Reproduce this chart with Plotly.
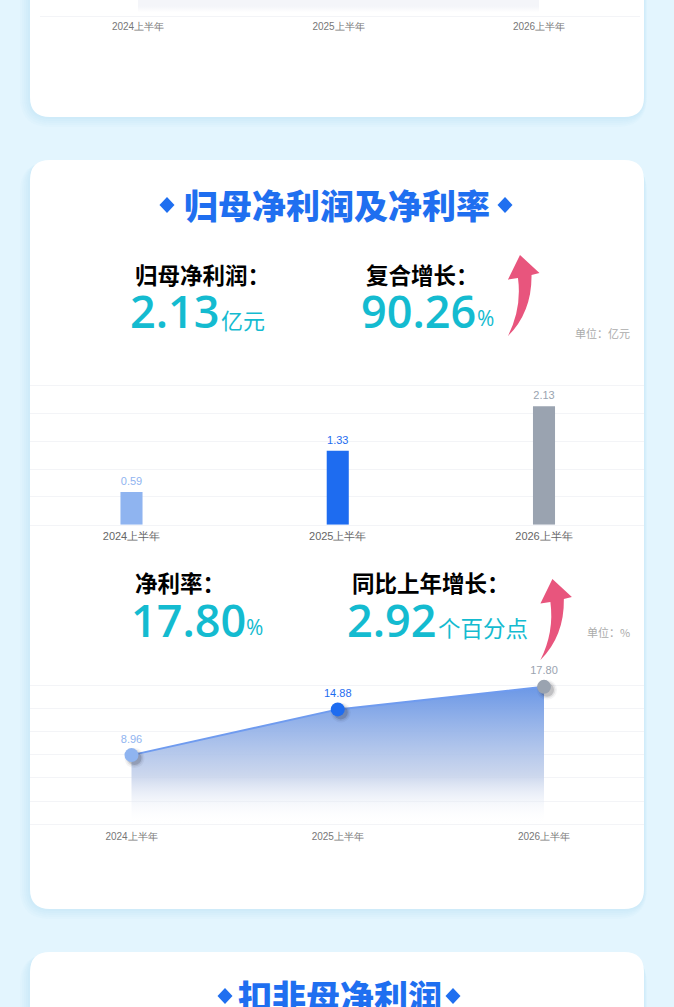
import plotly.graph_objects as go

W = 674
H = 1007

periods = ['2024上半年', '2025上半年', '2026上半年']
profit = [0.59, 1.33, 2.13]
margin = [8.96, 14.88, 17.80]
profit_labels = ['0.59', '1.33', '2.13']
margin_labels = ['8.96', '14.88', '17.80']
point_colors = ['#8FB4F0', '#1E6CF0', '#9AA3B0']
# only the faded foot of the chart above is in the picture
prev_tail = [1, 1, 1]

BLUE = '#1F6FF0'
TEAL = '#14BBD0'
PINK = '#E8557D'
GRID = '#F3F4F7'
SANS = 'Noto Sans CJK SC'
NUM = 'Open Sans'


def fx(x):
    return x / W


def fy(y):
    return 1 - y / H


def path(points):
    return 'M' + ' L'.join('%.4f,%.4f' % (fx(x), fy(y)) for x, y in points) + ' Z'


def card_path(x0, y0, x1, y1, r):
    return ('M%.4f,%.4f L%.4f,%.4f Q%.4f,%.4f %.4f,%.4f L%.4f,%.4f Q%.4f,%.4f %.4f,%.4f '
            'L%.4f,%.4f Q%.4f,%.4f %.4f,%.4f L%.4f,%.4f Q%.4f,%.4f %.4f,%.4f Z') % (
        fx(x0 + r), fy(y0), fx(x1 - r), fy(y0), fx(x1), fy(y0), fx(x1), fy(y0 + r),
        fx(x1), fy(y1 - r), fx(x1), fy(y1), fx(x1 - r), fy(y1),
        fx(x0 + r), fy(y1), fx(x0), fy(y1), fx(x0), fy(y1 - r),
        fx(x0), fy(y0 + r), fx(x0), fy(y0), fx(x0 + r), fy(y0))


shapes = []


def add_card(y0, y1):
    for grow in [10, 8, 6, 4, 2]:
        shapes.append(dict(type='path', xref='paper', yref='paper', layer='below',
                           path=card_path(30 - grow, y0 + 2, 644 + grow * 0.3, y1 + grow, 20 + grow),
                           fillcolor='rgba(150,205,240,0.045)', line_width=0))
    shapes.append(dict(type='path', xref='paper', yref='paper', layer='below',
                       path=card_path(30, y0, 644, y1, 20), fillcolor='white', line_width=0))


def add_diamond(cx, cy):
    shapes.append(dict(type='path', xref='paper', yref='paper', layer='below',
                       path=path([(cx, cy - 8), (cx + 7.5, cy), (cx, cy + 8), (cx - 7.5, cy)]),
                       fillcolor=BLUE, line_width=0))


def add_arrow(dx, dy):
    p = lambda x, y: '%.4f,%.4f' % (fx(x + dx), fy(y + dy))
    d = ('M' + p(520, 255) + ' L' + p(539.5, 273) + ' L' + p(531.5, 275)
         + ' Q' + p(532, 312) + ' ' + p(508, 336)
         + ' Q' + p(522, 308) + ' ' + p(518, 278)
         + ' L' + p(508, 279.5) + ' Z')
    shapes.append(dict(type='path', xref='paper', yref='paper', layer='above',
                       path=d, fillcolor=PINK, line_width=0))


add_card(-60, 117)
add_card(160, 909)
add_card(952, 1080)
add_diamond(167, 205)
add_diamond(505, 205)
add_diamond(225, 996)
add_diamond(453, 996)
add_arrow(0, 0)
add_arrow(32.4, 324)

annotations = []


def label(x, y, text, size, color, anchor='left', family=SANS, weight=None):
    font = dict(size=size, color=color, family=family)
    if weight:
        font['weight'] = weight
    annotations.append(dict(x=fx(x), y=fy(y), xref='paper', yref='paper', text=text, font=font,
                            xanchor=anchor, yanchor='middle', showarrow=False, borderpad=0, borderwidth=0))


label(337, 204, '归母净利润及净利率', 34, BLUE, 'center', weight=900)
label(339.5, 995, '扣非母净利润', 34, BLUE, 'center', weight=900)

label(135, 274, '归母净利润：', 22.5, 'black', weight=700)
label(366, 274, '复合增长：', 22.5, 'black', weight=700)
label(130, 310, '2.13', 45, TEAL, family=NUM, weight=600)
label(221, 319, '亿元', 22, TEAL)
label(361, 310, '90.26', 45, TEAL, family=NUM, weight=600)
label(477, 318, '%', 21, TEAL, family=NUM)
label(630, 333, '单位：亿元', 11, '#ABABAB', 'right')

label(135, 582, '净利率：', 22.5, 'black', weight=700)
label(352, 582, '同比上年增长：', 22.5, 'black', weight=700)
label(131, 619, '17.80', 45, TEAL, family=NUM, weight=600)
label(246, 627, '%', 21, TEAL, family=NUM)
label(347, 619, '2.92', 45, TEAL, family=NUM, weight=600)
label(438, 627, '个百分点', 22.5, TEAL)
label(630, 632, '单位：%', 11, '#ABABAB', 'right')

fig = go.Figure()

# chart left over from the card above
fig.add_trace(go.Scatter(x=periods, y=prev_tail, mode='none', fill='tozeroy', xaxis='x', yaxis='y',
                         fillgradient=dict(type='vertical', start=0, stop=1,
                                           colorscale=[[0, 'rgba(243,244,248,0)'], [0.5, 'rgba(244,245,249,1)'],
                                                       [1, 'rgba(244,245,249,1)']]),
                         hoverinfo='skip', showlegend=False))

fig.add_trace(go.Bar(x=periods, y=profit, width=0.107, marker=dict(color=point_colors, line_width=0),
                     xaxis='x2', yaxis='y2', showlegend=False))

# area and line first, then the marker shadows, then the markers on top
fig.add_trace(go.Scatter(x=periods, y=margin, mode='lines', fill='tozeroy',
                         fillgradient=dict(type='vertical', start=0, stop=18,
                                           colorscale=[[0, 'rgba(255,255,255,0)'], [0.35, 'rgba(195,208,234,0.85)'],
                                                       [1, 'rgba(105,150,230,1)']]),
                         line=dict(color='#6F9BEF', width=2),
                         xaxis='x3', yaxis='y3', showlegend=False))

# shadow axes are the same axes moved a few pixels right and down
for size, alpha in [(20, 0.05), (17, 0.09), (14, 0.18)]:
    fig.add_trace(go.Scatter(x=periods, y=margin, mode='markers', xaxis='x4', yaxis='y4',
                             marker=dict(size=size, color='rgba(40,40,50,%.2f)' % alpha, line_width=0),
                             cliponaxis=False, hoverinfo='skip', showlegend=False))

fig.add_trace(go.Scatter(x=periods, y=margin, mode='markers+text',
                         marker=dict(size=14, color=point_colors, line_width=0),
                         text=margin_labels, textposition='top center', cliponaxis=False,
                         textfont=dict(size=11, color=point_colors, family='Liberation Sans'),
                         xaxis='x5', yaxis='y5', showlegend=False))

# bar labels sit a little higher than plotly puts them, so they hang off an empty bar on raised axes
fig.add_trace(go.Bar(x=periods, y=profit, width=0.107, marker=dict(color='rgba(0,0,0,0)', line_width=0),
                     text=profit_labels, textposition='outside', cliponaxis=False,
                     textfont=dict(size=11, color=point_colors, family='Liberation Sans'),
                     xaxis='x6', yaxis='y6', showlegend=False))


def cat_axis(px0, px1, first, step, anchor, tick_size, tick_color, standoff):
    return dict(domain=[fx(px0), fx(px1)], range=[(px0 - first) / step, (px1 - first) / step],
                type='category', categoryorder='array', categoryarray=periods,
                anchor=anchor, showgrid=False, zeroline=False, showline=True, linecolor=GRID, linewidth=1,
                ticks='outside', ticklen=standoff, tickcolor='rgba(0,0,0,0)',
                tickfont=dict(size=tick_size, color=tick_color, family='Liberation Sans'))


def val_axis(px_top, px_bottom, top, dtick, anchor):
    # spare pixels above the top gridline, plotly drops a gridline on the very edge
    px_per_unit = (px_bottom - px_top) / top
    return dict(domain=[fy(px_bottom), fy(px_top - 4)], range=[0, top + 4 / px_per_unit], dtick=dtick, anchor=anchor,
                showticklabels=False, ticks='', showgrid=True, gridcolor=GRID, gridwidth=1, zeroline=False)


def copy_axis(px0, px1):
    return dict(domain=[fx(px0), fx(px1)], range=[(30 - 131.5) / 206.25, (644 - 131.5) / 206.25],
                type='category', categoryorder='array', categoryarray=periods, visible=False)


def copy_val(px_top, px_bottom, top):
    return dict(domain=[fy(px_bottom), fy(px_top)], range=[0, top], visible=False)


fig.update_layout(
    width=W, height=H, margin=dict(l=0, r=0, t=0, b=0), autosize=False,
    paper_bgcolor='#E3F5FE', plot_bgcolor='rgba(0,0,0,0)', shapes=shapes, annotations=annotations,
    hovermode=False,
    xaxis=cat_axis(40, 640, 138, 200.5, 'y', 10, '#777777', 1),
    yaxis=dict(domain=[fy(16), fy(0)], range=[-0.3, 1.0], anchor='x', visible=False),
    xaxis2=cat_axis(30, 644, 131.5, 206.25, 'y2', 11, '#666666', 1),
    yaxis2=val_axis(385.7, 524.7, 2.5, 0.5, 'x2'),
    xaxis3=cat_axis(30, 644, 131.5, 206.25, 'y3', 10, '#777777', 3),
    yaxis3=val_axis(685.3, 824.3, 18, 3, 'x3'),
    xaxis4=dict(copy_axis(33, 647), anchor='y4'),
    yaxis4=dict(copy_val(688.3, 827.3, 18), anchor='x4'),
    xaxis5=dict(copy_axis(30, 644), anchor='y5'),
    yaxis5=dict(copy_val(685.3, 824.3, 18), anchor='x5'),
    xaxis6=dict(copy_axis(30, 644), anchor='y6'),
    yaxis6=dict(copy_val(383.7, 522.7, 2.5), anchor='x6'),
)

fig.write_html('out.html', config={'displayModeBar': False},
               post_script="document.body.style.margin='0';document.body.style.overflow='hidden';")
